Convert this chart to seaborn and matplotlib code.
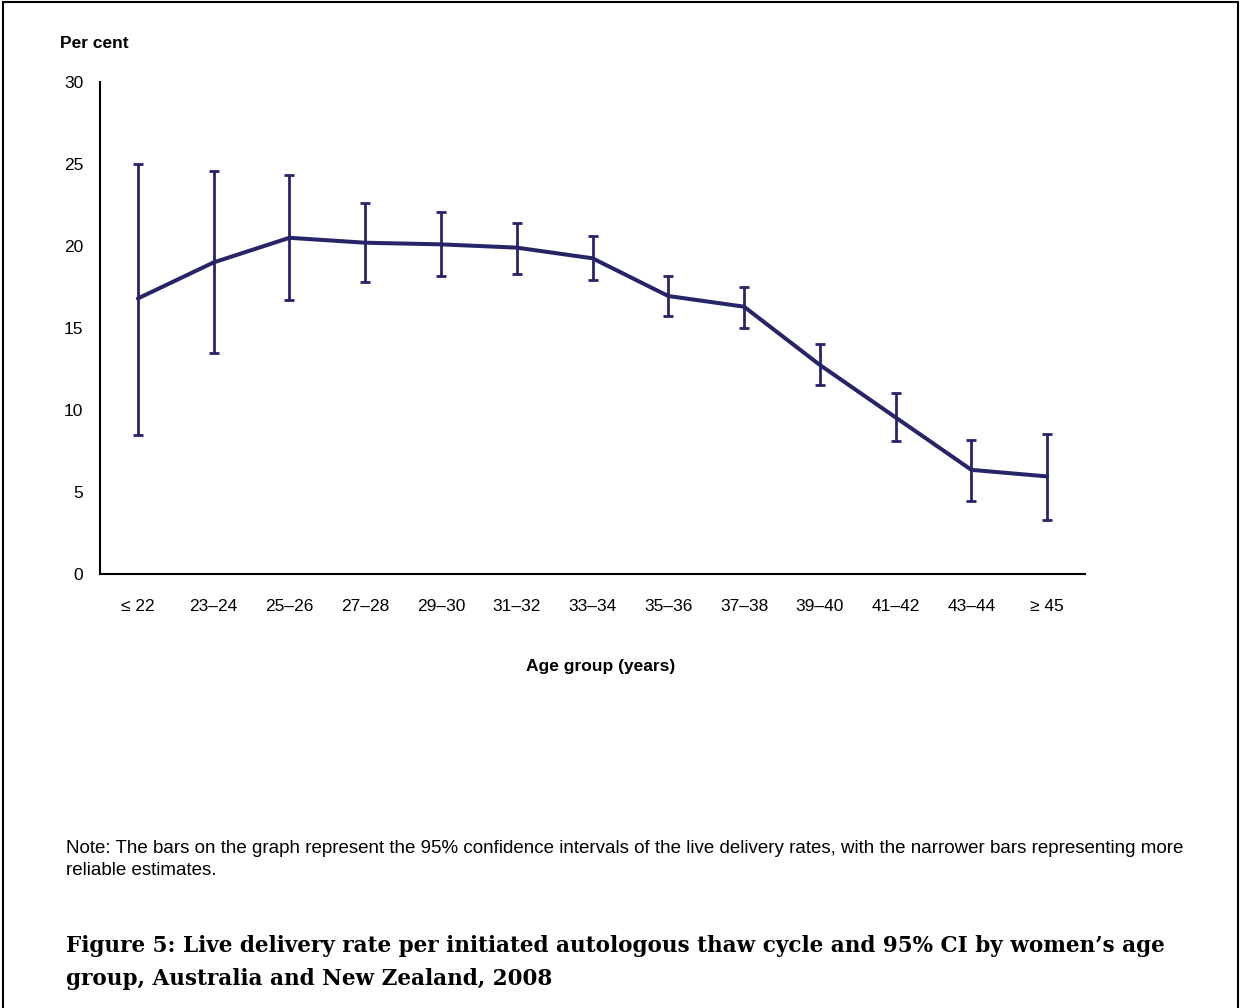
import matplotlib
matplotlib.use("Agg")
import matplotlib.pyplot as plt
from matplotlib.lines import Line2D
import numpy as np
import pandas as pd
import seaborn as sns

age_groups = ["≤ 22", "23–24", "25–26", "27–28", "29–30", "31–32", "33–34",
              "35–36", "37–38", "39–40", "41–42", "43–44", "≥ 45"]
rate = [16.8, 19.0, 20.5, 20.2, 20.1, 19.9, 19.25, 16.95, 16.3, 12.75, 9.55, 6.35, 5.95]
ci_low = [8.45, 13.45, 16.7, 17.8, 18.2, 18.3, 17.9, 15.75, 15.0, 11.5, 8.1, 4.45, 3.3]
ci_high = [25.0, 24.55, 24.35, 22.65, 22.05, 21.4, 20.6, 18.15, 17.5, 14.0, 11.05, 8.2, 8.55]

df = pd.DataFrame({"age": age_groups, "rate": rate, "lo": ci_low, "hi": ci_high})
navy = "#272568"

sns.set_style("white")
plt.rcParams["font.family"] = ["Liberation Sans", "DejaVu Sans"]
plt.rcParams["text.color"] = "black"
plt.rcParams["xtick.color"] = "black"
plt.rcParams["ytick.color"] = "black"

W, H = 1242, 1008
fig = plt.figure(figsize=(W / 100, H / 100), dpi=100)
ax = fig.add_axes([100 / W, 1 - 574 / H, 985 / W, 492 / H])

pos = np.arange(len(age_groups))
ax.errorbar(pos, df["rate"],
            yerr=[df["rate"] - df["lo"], df["hi"] - df["rate"]],
            fmt="none", ecolor=navy, elinewidth=2.0, capsize=3.4, capthick=2.0, zorder=2)
sns.lineplot(x=pos, y=df["rate"], ax=ax, color=navy, lw=2.9, zorder=3)

ax.set_xlim(-0.5, len(age_groups) - 0.5)
ax.set_ylim(0, 30)
ax.set_yticks(range(0, 31, 5))
ax.set_xticks(np.arange(-0.5, len(age_groups), 1.0))
ax.set_xticklabels([])
ax.set_xticks(pos, minor=True)
ax.set_xticklabels(age_groups, minor=True)
ax.tick_params(axis="x", which="major", direction="out", length=5, width=1.3)
ax.tick_params(axis="x", which="minor", length=0, pad=18, labelsize=12.5)
ax.tick_params(axis="y", direction="out", length=5, width=1.3, pad=7, labelsize=12.5)
ax.set_xlabel("")
ax.set_ylabel("")

sns.despine(ax=ax)
for side in ["left", "bottom"]:
    ax.spines[side].set_linewidth(1.5)
    ax.spines[side].set_color("black")

fig.text(60 / W, 1 - 44 / H, "Per cent", fontsize=12.5, fontweight="bold", va="center")
fig.text(601 / W, 1 - 667 / H, "Age group (years)", fontsize=12.5, fontweight="bold",
         ha="center", va="center")

# baselines below are those of the last line of each block
fig.text(66 / W, 1 - 875 / H,
         "Note: The bars on the graph represent the 95% confidence intervals of the live delivery rates, "
         "with the narrower bars representing more\nreliable estimates.",
         fontsize=13.5, va="baseline", linespacing=1.4)

fig.text(66 / W, 1 - 985 / H,
         "Figure 5: Live delivery rate per initiated autologous thaw cycle and 95% CI by women’s age\n"
         "group, Australia and New Zealand, 2008",
         fontsize=15.5, fontweight="bold", va="baseline", linespacing=1.62,
         family=["DejaVu Serif"])

# page frame (left, top, right)
for xs, ys in [([3, 3], [2, 1008]), ([3, 1238], [2, 2]), ([1238, 1238], [2, 1008])]:
    fig.add_artist(Line2D([x / W for x in xs], [1 - y / H for y in ys],
                          color="black", lw=1.5, transform=fig.transFigure))

fig.savefig("out.png", dpi=100)
